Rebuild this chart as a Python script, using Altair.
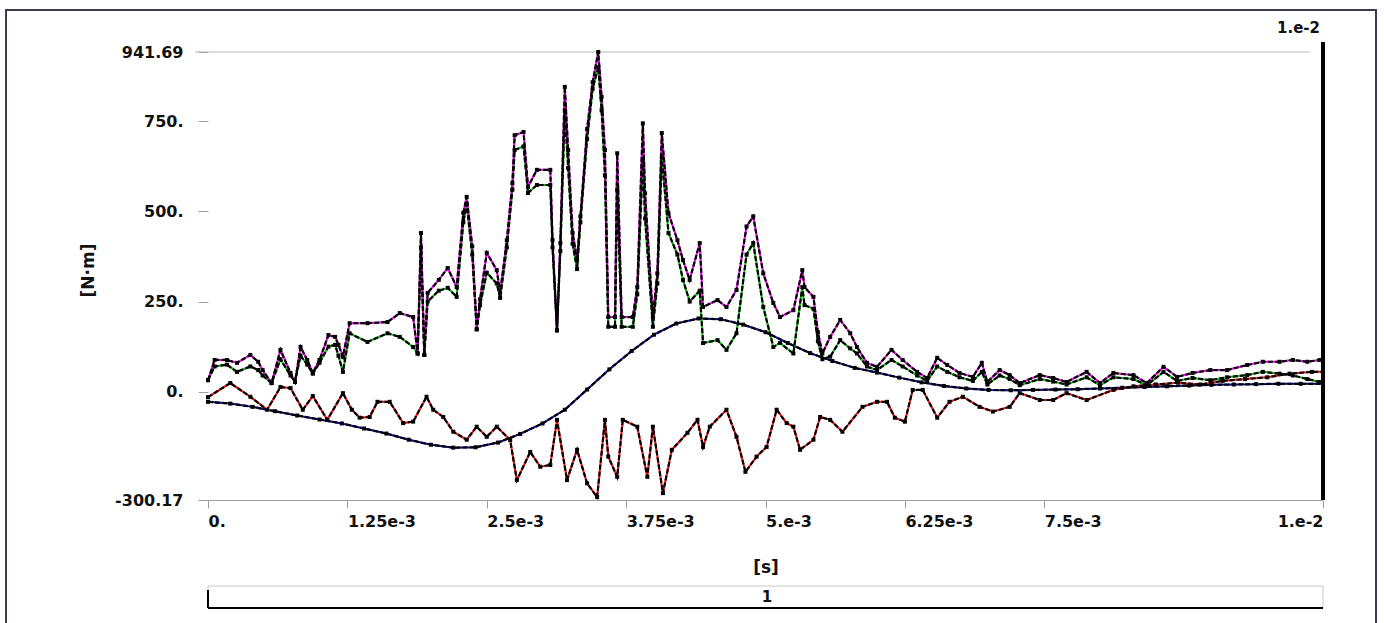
import altair as alt
import pandas as pd

# ---------------- data (time in ms, moment in N·m) ----------------
main_t_ms = [0, 0.06, 0.17, 0.26, 0.38, 0.45, 0.49, 0.57, 0.65, 0.74, 0.78, 0.83, 0.89, 0.94,
             1.00, 1.08, 1.14, 1.17, 1.21, 1.27, 1.43, 1.61, 1.72, 1.84, 1.88, 1.91, 1.94, 1.97,
             2.07, 2.15, 2.23, 2.29, 2.32, 2.37, 2.41, 2.44, 2.50, 2.59, 2.62, 2.68, 2.73, 2.75,
             2.83, 2.87, 2.95, 3.07, 3.09, 3.13, 3.16, 3.20, 3.23, 3.27, 3.31, 3.34, 3.40, 3.45,
             3.50, 3.53, 3.56, 3.59, 3.65, 3.67, 3.71, 3.81, 3.85, 3.90, 3.92, 3.99, 4.03, 4.07,
             4.13, 4.21, 4.26, 4.32, 4.41, 4.44, 4.57, 4.65, 4.74, 4.83, 4.89, 4.98, 5.07, 5.13,
             5.25, 5.33, 5.35, 5.43, 5.47, 5.51, 5.58, 5.67, 5.76, 5.82, 5.91, 6.00, 6.13, 6.23,
             6.36, 6.45, 6.54, 6.63, 6.74, 6.86, 6.94, 6.99, 7.10, 7.19, 7.28, 7.46, 7.58, 7.70,
             7.88, 8.00, 8.12, 8.30, 8.42, 8.57, 8.69, 8.83, 8.99, 9.14, 9.32, 9.46, 9.61, 9.73,
             9.86, 9.97, 10.0]

total_vals = [32, 88, 88, 80, 102, 83, 60, 24, 116, 52, 27, 124, 88, 52,
              88, 157, 152, 130, 97, 190, 190, 193, 218, 207, 106, 440, 102, 274,
              310, 343, 290, 496, 540, 403, 173, 256, 385, 337, 274, 420, 578, 711,
              720, 568, 615, 615, 420, 170, 412, 845, 670, 440, 365, 486, 728, 858,
              941.69, 817, 670, 207, 207, 661, 207, 207, 290, 744, 550, 207, 328, 717,
              495, 420, 365, 310, 412, 235, 254, 235, 282, 458, 486, 328, 246, 207,
              226, 337, 290, 263, 165, 106, 152, 199, 162, 124, 80, 69, 116, 88,
              55, 38, 94, 74, 52, 41, 80, 27, 60, 46, 24, 46, 38, 27,
              55, 24, 52, 46, 24, 69, 41, 52, 60, 60, 74, 83, 83, 88,
              83, 88, 88]

y_vals = [32, 70, 75, 55, 70, 60, 45, 24, 90, 45, 27, 100, 75, 50,
          80, 125, 130, 100, 55, 162, 138, 162, 152, 124, 106, 400, 102, 250,
          280, 288, 263, 470, 520, 380, 173, 240, 330, 300, 260, 400, 560, 670,
          680, 551, 573, 573, 400, 170, 390, 780, 620, 410, 340, 470, 700, 840,
          900, 780, 600, 180, 180, 560, 180, 180, 270, 640, 480, 180, 300, 650,
          440, 380, 310, 250, 280, 135, 143, 116, 162, 380, 412, 235, 124, 135,
          106, 290, 240, 230, 140, 90, 97, 143, 120, 106, 70, 60, 88, 70,
          45, 30, 70, 55, 40, 30, 55, 20, 45, 35, 18, 35, 28, 20,
          40, 18, 40, 35, 18, 55, 30, 38, 32, 40, 46, 55, 50, 45,
          35, 27, 27]

x_t_ms = [0, 0.20, 0.38, 0.53, 0.65, 0.74, 0.85, 0.94, 1.07, 1.21, 1.29, 1.36, 1.45, 1.52,
          1.63, 1.75, 1.84, 1.96, 2.02, 2.11, 2.20, 2.32, 2.41, 2.50, 2.59, 2.71, 2.77, 2.89,
          2.98, 3.07, 3.13, 3.22, 3.31, 3.40, 3.49, 3.56, 3.59, 3.67, 3.72, 3.85, 3.94, 3.99,
          4.08, 4.16, 4.30, 4.39, 4.44, 4.50, 4.65, 4.74, 4.82, 4.92, 5.01, 5.10, 5.19, 5.25,
          5.31, 5.43, 5.49, 5.58, 5.69, 5.87, 6.00, 6.09, 6.16, 6.25, 6.32, 6.41, 6.54, 6.65,
          6.77, 6.92, 7.04, 7.19, 7.28, 7.46, 7.58, 7.70, 7.88, 8.12, 8.30, 8.50, 8.70, 8.90,
          9.10, 9.30, 9.50, 9.70, 9.90, 10.0]
x_vals = [-15, 24, -14, -50, 13, 10, -50, -12, -78, -4, -50, -72, -70, -28,
          -28, -87, -83, -14, -50, -70, -111, -133, -97, -125, -97, -134, -245, -167,
          -208, -203, -78, -245, -161, -254, -292, -78, -180, -236, -78, -97, -236, -97,
          -281, -161, -114, -78, -153, -97, -50, -125, -222, -180, -153, -50, -87, -97,
          -161, -133, -70, -78, -111, -42, -28, -28, -72, -83, 5, 5, -72, -28,
          -14, -42, -55, -42, -4, -23, -23, -4, -23, 5, 15, 20, 25, 20,
          30, 35, 40, 50, 55, 55]

z_t_ms = [0, 0.2, 0.4, 0.6, 0.8, 1.0, 1.2, 1.4, 1.6, 1.8, 2.0, 2.2, 2.4, 2.6, 2.8, 3.0,
          3.2, 3.4, 3.6, 3.8, 4.0, 4.2, 4.4, 4.6, 4.8, 5.0, 5.2, 5.4, 5.6, 5.8, 6.0, 6.2,
          6.4, 6.6, 6.8, 7.0, 7.2, 7.4, 7.6, 7.8, 8.0, 8.2, 8.4, 8.6, 8.8, 9.0, 9.2, 9.4,
          9.6, 9.8, 10.0]
z_vals = [-28, -33, -42, -54, -66, -77, -88, -102, -116, -133, -147, -155, -154, -141, -117, -88,
          -50, 6, 62, 113, 158, 189, 203, 201, 186, 165, 135, 107, 85, 66, 53, 39,
          26, 16, 9, 5, 4, 5, 6, 7, 9, 11, 13, 15, 17, 19, 20, 21,
          22, 22, 22]

series_names = ["Z", "X", "Y", "Total"]
series_colors = ["#0a0aa0", "#ff1010", "#10c010", "#ff00ff"]

x_tick_vals = [0, 0.00125, 0.0025, 0.00375, 0.005, 0.00625, 0.0075, 0.01]
x_tick_labels = ["0.", "1.25e-3", "2.5e-3", "3.75e-3", "5.e-3", "6.25e-3", "7.5e-3", "1.e-2"]
y_tick_vals = [-300.17, 0, 250, 500, 750, 941.69]
y_tick_labels = ["-300.17", "0.", "250.", "500.", "750.", "941.69"]

# ---------------- build table ----------------
rows = []
for name, ts, vs in [("Z", z_t_ms, z_vals), ("X", x_t_ms, x_vals),
                     ("Y", main_t_ms, y_vals), ("Total", main_t_ms, total_vals)]:
    for i, (t, v) in enumerate(zip(ts, vs)):
        rows.append({"t": t / 1000.0, "v": v, "series": name, "idx": i})
df = pd.DataFrame(rows)


def label_expr(vals, labels):
    expr = "''"
    for v, l in reversed(list(zip(vals, labels))):
        expr = f"(abs(datum.value - ({v})) < 1e-7 ? '{l}' : {expr})"
    return expr


W, H = 1115, 448
FONT = "DejaVu Sans"

xscale = alt.Scale(domain=[0, 0.01], nice=False, zero=False)
yscale = alt.Scale(domain=[-300.17, 941.69], nice=False, zero=False)

x_enc = alt.X("t:Q", scale=xscale, title="[s]",
              axis=alt.Axis(values=x_tick_vals, labelExpr=label_expr(x_tick_vals, x_tick_labels),
                            labelAlign={"condition": {"test": "datum.value >= 0.0099", "value": "right"},
                                        "value": "left"},
                            labelOverlap=False, labelFlush=False, grid=False, zindex=2,
                            domainColor="#a0a0a0", tickColor="#a0a0a0", tickSize=8,
                            labelPadding=5, labelFont=FONT, labelFontSize=16,
                            labelFontWeight="bold", labelColor="#111111",
                            titleFont=FONT, titleFontSize=17, titleFontWeight="bold",
                            titleColor="#111111", titleY=67, titleBaseline="middle"))
y_enc = alt.Y("v:Q", scale=yscale, title="[N·m]",
              axis=alt.Axis(values=y_tick_vals, labelExpr=label_expr(y_tick_vals, y_tick_labels),
                            labelOverlap=False, grid=False, domain=False, zindex=2,
                            tickColor="#a0a0a0", tickSize=10, labelPadding=15,
                            labelFont=FONT, labelFontSize=16, labelFontWeight="bold",
                            labelColor="#111111", titleFont=FONT, titleFontSize=17,
                            titleFontWeight="bold", titleColor="#111111",
                            titleX=-120, titleY=218, titleAlign="center",
                            titleBaseline="middle", titleAngle=270))

base = alt.Chart(df)

colored = base.mark_line(strokeWidth=2).encode(
    x=x_enc, y=y_enc,
    color=alt.Color("series:N", scale=alt.Scale(domain=series_names, range=series_colors), legend=None),
    order="idx:Q")

black = base.mark_line(strokeWidth=2.2, strokeDash=[5, 2], color="black").encode(
    x="t:Q", y="v:Q", detail="series:N", order="idx:Q")

pts = base.mark_square(size=16, color="black", opacity=1).encode(x="t:Q", y="v:Q")

# decorations
deco = pd.DataFrame({"k": [0]})
dchart = alt.Chart(deco)

frame = dchart.mark_rect(filled=False, stroke="#3a3a50", strokeWidth=2).encode(
    x=alt.value(-202), x2=alt.value(1168), y=alt.value(-42), y2=alt.value(600))

top_rule = dchart.mark_rule(color="#b8b8b8", strokeWidth=1).encode(
    x=alt.value(-13), x2=alt.value(1102), y=alt.datum(941.69, scale=yscale))

cursor = dchart.mark_rule(color="black", strokeWidth=4).encode(
    x=alt.datum(0.01, scale=xscale), y=alt.value(-10), y2=alt.value(H))

cursor_label = dchart.mark_text(text="1.e-2", align="right", baseline="middle", font=FONT,
                                fontSize=15, fontWeight="bold", color="#111111").encode(
    x=alt.value(W - 3), y=alt.value(-24))

bar = dchart.mark_rect(filled=False, stroke="#c8c8c8", strokeWidth=1).encode(
    x=alt.value(0), x2=alt.value(W), y=alt.value(534), y2=alt.value(556))
bar_bottom = dchart.mark_rule(color="black", strokeWidth=2).encode(
    x=alt.value(0), x2=alt.value(W), y=alt.value(556))
bar_left = dchart.mark_rule(color="black", strokeWidth=2).encode(
    x=alt.value(0), y=alt.value(538), y2=alt.value(556))
bar_text = dchart.mark_text(text="1", align="center", baseline="middle", font=FONT,
                            fontSize=15, fontWeight="bold", color="#111111").encode(
    x=alt.value(559), y=alt.value(545))

chart = alt.layer(
    frame, top_rule, bar, bar_bottom, bar_left, bar_text,
    colored, black, pts, cursor, cursor_label
).properties(
    width=W, height=H,
    autosize=alt.AutoSizeParams(type="none"),
    padding={"left": 208, "top": 52, "right": 61, "bottom": 123},
    background="white"
).configure_view(stroke="transparent")

chart.save("out.html", embed_options={"renderer": "svg", "actions": False})
